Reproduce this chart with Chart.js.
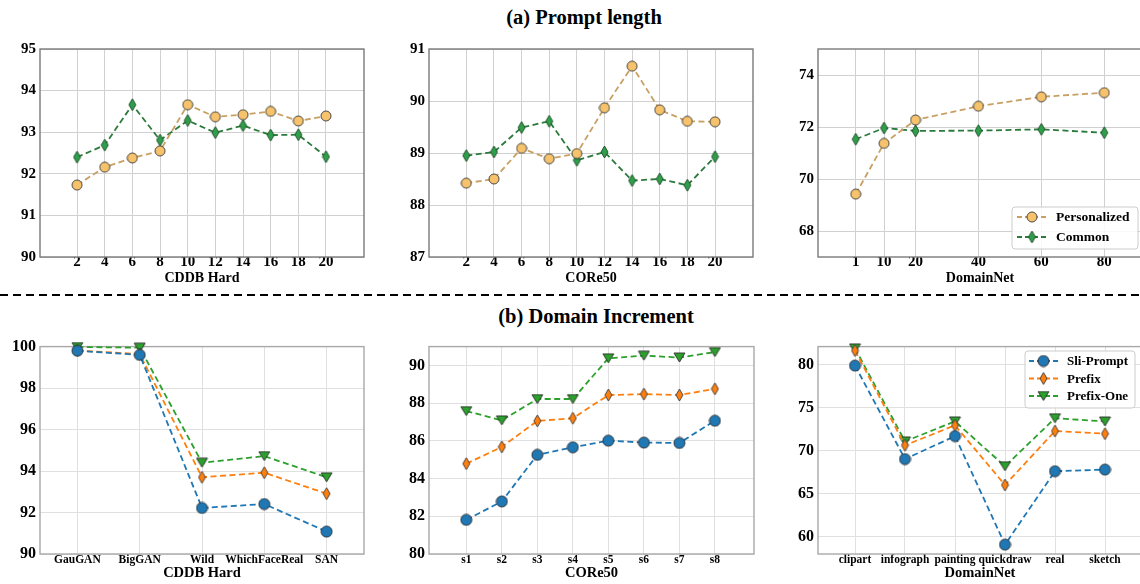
<!DOCTYPE html>
<html>
<head>
<meta charset="utf-8">
<script src="https://cdn.jsdelivr.net/npm/chart.js@4.4.1/dist/chart.umd.min.js"></script>
<style>
  html, body { margin: 0; padding: 0; background: #fff; }
  body { width: 1140px; height: 584px; position: relative; overflow: hidden; }
  canvas { position: absolute; }
  .title { position: absolute; font-family: "Liberation Serif", serif; font-weight: bold;
           font-size: 20.5px; line-height: 24px; white-space: nowrap; transform: translateX(-50%); }
  .warm { position: absolute; left: -500px; top: 0; font-family: "Liberation Serif"; font-weight: bold; font-size: 15px; }
  svg { position: absolute; left: 0; top: 0; }
</style>
</head>
<body>
<div class="title" style="left:584px; top:5px;">(a) Prompt length</div>
<div class="title" style="left:596px; top:304px;">(b) Domain Increment</div>
<div class="warm">0123456789 CDDB Hard</div>
<svg width="1140" height="584"><line x1="0" y1="295" x2="1140" y2="295" stroke="#000" stroke-width="2" stroke-dasharray="8 5"/></svg>

<canvas id="p1"></canvas>
<canvas id="p2"></canvas>
<canvas id="p3"></canvas>
<canvas id="b1"></canvas>
<canvas id="b2"></canvas>
<canvas id="b3"></canvas>

<script>
// ---- data: (a) prompt length ----
const promptLens = [2, 4, 6, 8, 10, 12, 14, 16, 18, 20];
const cddbPersonalized = [91.73, 92.16, 92.38, 92.55, 93.66, 93.37, 93.42, 93.50, 93.27, 93.39];
const cddbCommon       = [92.40, 92.69, 93.66, 92.81, 93.28, 92.99, 93.16, 92.93, 92.94, 92.41];
const corePersonalized = [88.42, 88.50, 89.09, 88.89, 88.99, 89.87, 90.67, 89.83, 89.61, 89.60];
const coreCommon       = [88.95, 89.02, 89.49, 89.61, 88.86, 89.02, 88.47, 88.50, 88.38, 88.93];
const dnLens = [1, 10, 20, 40, 60, 80];
const dnPersonalized = [69.42, 71.37, 72.27, 72.80, 73.16, 73.32];
const dnCommon       = [71.53, 71.96, 71.85, 71.86, 71.91, 71.78];

// ---- data: (b) domain increment ----
const cddbDomains = ['GauGAN', 'BigGAN', 'Wild', 'WhichFaceReal', 'SAN'];
const cddbSli       = [99.80, 99.60, 92.22, 92.41, 91.08];
const cddbPrefix    = [99.81, 99.64, 93.70, 93.92, 92.91];
const cddbPrefixOne = [99.98, 99.95, 94.40, 94.72, 93.70];
const coreSessions = ['s1', 's2', 's3', 's4', 's5', 's6', 's7', 's8'];
const coreSli       = [81.81, 82.79, 85.26, 85.66, 86.01, 85.91, 85.89, 87.07];
const corePrefix    = [84.79, 85.68, 87.06, 87.20, 88.43, 88.48, 88.43, 88.76];
const corePrefixOne = [87.58, 87.09, 88.22, 88.22, 90.38, 90.52, 90.42, 90.71];
const dnDomains = ['clipart', 'infograph', 'painting', 'quickdraw', 'real', 'sketch'];
const dnSli       = [79.89, 69.03, 71.70, 59.09, 67.62, 67.81];
const dnPrefix    = [81.64, 70.63, 72.95, 66.02, 72.29, 71.98];
const dnPrefixOne = [81.90, 71.09, 73.41, 68.19, 73.78, 73.40];

// ---- y tick labels ----
const yTicksP1 = [90, 91, 92, 93, 94, 95];
const yTicksP2 = [87, 88, 89, 90, 91];
const yTicksP3 = [68, 70, 72, 74];
const yTicksB1 = [90, 92, 94, 96, 98, 100];
const yTicksB2 = [80, 82, 84, 86, 88, 90];
const yTicksB3 = [60, 65, 70, 75, 80];

const FONT = '"Liberation Serif", "Times New Roman", serif';
Chart.defaults.font.family = FONT;
Chart.defaults.font.weight = 'bold';
Chart.defaults.color = '#000';

// marker sprites (matplotlib style markers with dark edge)
function marker(kind, w, h, fill, edge) {
    const c = document.createElement('canvas');
    c.width = w + 2; c.height = h + 2;
    const g = c.getContext('2d');
    const cx = c.width / 2, cy = c.height / 2;
    g.fillStyle = fill; g.strokeStyle = edge; g.lineWidth = 0.9;
    g.beginPath();
    if (kind === 'circle') {
        g.arc(cx, cy, w / 2, 0, Math.PI * 2);
    } else if (kind === 'diamond') {
        g.moveTo(cx, cy - h / 2); g.lineTo(cx + w / 2, cy);
        g.lineTo(cx, cy + h / 2); g.lineTo(cx - w / 2, cy); g.closePath();
    } else {
        g.moveTo(cx - w / 2, cy - h / 2); g.lineTo(cx + w / 2, cy - h / 2);
        g.lineTo(cx, cy + h / 2); g.closePath();
    }
    g.fill(); g.stroke();
    return c;
}

const personalizedStyle = { label: 'Personalized', line: '#c9a063', img: marker('circle', 10, 10, '#f6c26b', '#3a3a3a') };
const commonStyle       = { label: 'Common', line: '#2b7a3b', img: marker('diamond', 7, 12, '#2e9e4a', '#1f4a28') };
const sliStyle       = { label: 'Sli-Prompt', line: '#1f77b4', img: marker('circle', 11, 11, '#1f77b4', '#2a2a2a') };
const prefixStyle    = { label: 'Prefix', line: '#ff7f0e', img: marker('diamond', 7, 12, '#ff7f0e', '#3a3a3a') };
const prefixOneStyle = { label: 'Prefix-One', line: '#2ca02c', img: marker('tri', 11, 9, '#2ca02c', '#2a2a2a') };

// frame around plot area
const framePlugin = {
    id: 'frame',
    beforeDatasetsDraw(chart, args, opts) {
        const a = chart.chartArea, ctx = chart.ctx;
        ctx.save();
        ctx.strokeStyle = opts.color;
        ctx.lineWidth = 1.4;
        ctx.strokeRect(a.left, a.top, a.right - a.left, a.bottom - a.top);
        ctx.restore();
    }
};

// legend drawn inside the plot, matplotlib style
const boxLegendPlugin = {
    id: 'boxLegend',
    afterDatasetsDraw(chart, args, o) {
        if (!o.items) return;
        const ctx = chart.ctx;
        const ox = o.offX, oy = o.offY;
        ctx.save();
        ctx.fillStyle = 'rgba(255,255,255,0.85)';
        ctx.strokeStyle = '#cccccc';
        ctx.lineWidth = 1;
        ctx.beginPath();
        ctx.roundRect(o.x - ox, o.y - oy, o.w, o.h, 3);
        ctx.fill(); ctx.stroke();
        o.items.forEach((it, i) => {
            const y = o.rows[i] - oy;
            ctx.strokeStyle = it.line;
            ctx.lineWidth = 1.8;
            ctx.setLineDash([5, 3]);
            ctx.beginPath();
            ctx.moveTo(o.lineX0 - ox, y); ctx.lineTo(o.lineX1 - ox, y);
            ctx.stroke();
            ctx.setLineDash([]);
            const m = it.img, mx = (o.lineX0 + o.lineX1) / 2 - ox;
            ctx.drawImage(m, mx - m.width / 2, y - m.height / 2);
            ctx.fillStyle = '#000';
            ctx.font = 'bold ' + o.fontSize + 'px ' + FONT;
            ctx.textBaseline = 'middle';
            ctx.fillText(it.label, o.textX - ox, y + 1);
        });
        ctx.restore();
    }
};

Chart.register(framePlugin, boxLegendPlugin);

function makePanel(id, box, xVals, xLabels, series, cfg) {
    const yW = 40, padT = 10, padR = 10;
    const left = box.left - yW, top = box.top - padT;
    const width = box.right - box.left + yW + padR;
    const height = box.bottom - box.top + padT + cfg.xAxisH;
    const el = document.getElementById(id);
    el.style.left = left + 'px';
    el.style.top = top + 'px';
    el.width = width;
    el.height = height;

    const datasets = series.map(s => ({
        label: s.style.label,
        data: xVals.map((x, i) => ({ x: x, y: s.values[i] })),
        borderColor: s.style.line,
        borderWidth: 1.8,
        borderDash: [6, 3.5],
        pointStyle: s.style.img,
        pointRadius: 6,
        tension: 0,
        fill: false,
        clip: false
    }));

    let legend = {};
    if (cfg.legend) {
        legend = Object.assign({ offX: left, offY: top }, cfg.legend, {
            items: series.map(s => s.style)
        });
    }

    return new Chart(el, {
        type: 'line',
        data: { datasets: datasets },
        options: {
            responsive: false,
            animation: false,
            events: [],
            layout: { padding: { top: padT, right: padR, left: 0, bottom: 0 } },
            plugins: {
                legend: { display: false },
                tooltip: { enabled: false },
                frame: { color: cfg.frameColor },
                boxLegend: legend
            },
            scales: {
                x: {
                    type: 'linear',
                    min: cfg.xMin,
                    max: cfg.xMax,
                    afterBuildTicks: s => { s.ticks = xVals.map(v => ({ value: v })); },
                    afterFit: s => { s.height = cfg.xAxisH; },
                    grid: { color: cfg.gridColor, drawTicks: false, lineWidth: 1 },
                    border: { display: false },
                    ticks: {
                        autoSkip: false,
                        maxRotation: 0,
                        padding: cfg.xTickPad,
                        font: { size: cfg.xTickSize, weight: 'bold' },
                        callback: (v, i) => xLabels[i]
                    },
                    title: {
                        display: true,
                        text: cfg.xTitle,
                        font: { size: cfg.xTitleSize, weight: 'bold' },
                        padding: { top: 0, bottom: 0 }
                    }
                },
                y: {
                    min: cfg.yMin,
                    max: cfg.yMax,
                    afterBuildTicks: s => { s.ticks = cfg.yTicks.map(v => ({ value: v })); },
                    afterFit: s => { s.width = yW; },
                    grid: { color: cfg.gridColor, drawTicks: false, lineWidth: 1 },
                    border: { display: false },
                    ticks: {
                        padding: 4,
                        font: { size: cfg.yTickSize, weight: 'bold' },
                        callback: v => String(v)
                    }
                }
            }
        }
    });
}

const topCfg = { xAxisH: 30, xTickPad: -4, xTickSize: 15, xTitleSize: 14, yTickSize: 15,
                 frameColor: '#7a7a7a', gridColor: '#d0d0d0' };
const botCfg = { xAxisH: 28, xTickPad: -1, xTickSize: 11.5, xTitleSize: 14.5, yTickSize: 16,
                 frameColor: '#a8a8a8', gridColor: '#e0e0e0' };

function drawAll() {
    // (a) prompt length
    makePanel('p1', { left: 40, right: 364, top: 46, bottom: 257 }, promptLens, promptLens.map(String),
        [{ style: personalizedStyle, values: cddbPersonalized }, { style: commonStyle, values: cddbCommon }],
        Object.assign({}, topCfg, { xMin: -0.68, xMax: 22.75, yMin: 90, yMax: 95, yTicks: yTicksP1, xTitle: 'CDDB Hard' }));

    makePanel('p2', { left: 429, right: 753, top: 46, bottom: 257 }, promptLens, promptLens.map(String),
        [{ style: personalizedStyle, values: corePersonalized }, { style: commonStyle, values: coreCommon }],
        Object.assign({}, topCfg, { xMin: -0.7, xMax: 22.75, yMin: 87, yMax: 91, yTicks: yTicksP2, xTitle: 'CORe50' }));

    makePanel('p3', { left: 818, right: 1142, top: 46, bottom: 257 }, dnLens, dnLens.map(String),
        [{ style: personalizedStyle, values: dnPersonalized }, { style: commonStyle, values: dnCommon }],
        Object.assign({}, topCfg, { xMin: -11, xMax: 92, yMin: 67, yMax: 75, yTicks: yTicksP3, xTitle: 'DomainNet',
            legend: { x: 1012, y: 207, w: 126, h: 42, rows: [217, 237], lineX0: 1017, lineX1: 1047, textX: 1056, fontSize: 13.5 } }));

    // (b) domain increment
    makePanel('b1', { left: 40, right: 364, top: 343, bottom: 554 }, cddbDomains.map((d, i) => i), cddbDomains,
        [{ style: sliStyle, values: cddbSli }, { style: prefixStyle, values: cddbPrefix }, { style: prefixOneStyle, values: cddbPrefixOne }],
        Object.assign({}, botCfg, { xMin: -0.6, xMax: 4.6, yMin: 90, yMax: 100, yTicks: yTicksB1, xTitle: 'CDDB Hard' }));

    makePanel('b2', { left: 429, right: 754, top: 343, bottom: 554 }, coreSessions.map((d, i) => i), coreSessions,
        [{ style: sliStyle, values: coreSli }, { style: prefixStyle, values: corePrefix }, { style: prefixOneStyle, values: corePrefixOne }],
        Object.assign({}, botCfg, { xMin: -1.05, xMax: 8.1, yMin: 80, yMax: 91, yTicks: yTicksB2, xTitle: 'CORe50' }));

    makePanel('b3', { left: 818, right: 1142, top: 343, bottom: 554 }, dnDomains.map((d, i) => i), dnDomains,
        [{ style: sliStyle, values: dnSli }, { style: prefixStyle, values: dnPrefix }, { style: prefixOneStyle, values: dnPrefixOne }],
        Object.assign({}, botCfg, { xMin: -0.74, xMax: 5.74, yMin: 58, yMax: 82.1, yTicks: yTicksB3, xTitle: 'DomainNet',
            legend: { x: 1025, y: 351, w: 110, h: 57, rows: [361, 378.5, 396], lineX0: 1029, lineX1: 1058, textX: 1067, fontSize: 13 } }));
}

// force layout so the serif face is resolved before the canvases draw text
void document.body.offsetWidth;
if (document.fonts && document.fonts.load) {
    document.fonts.load('bold 15px "Liberation Serif"').then(drawAll, drawAll);
} else {
    drawAll();
}
</script>
</body>
</html>
